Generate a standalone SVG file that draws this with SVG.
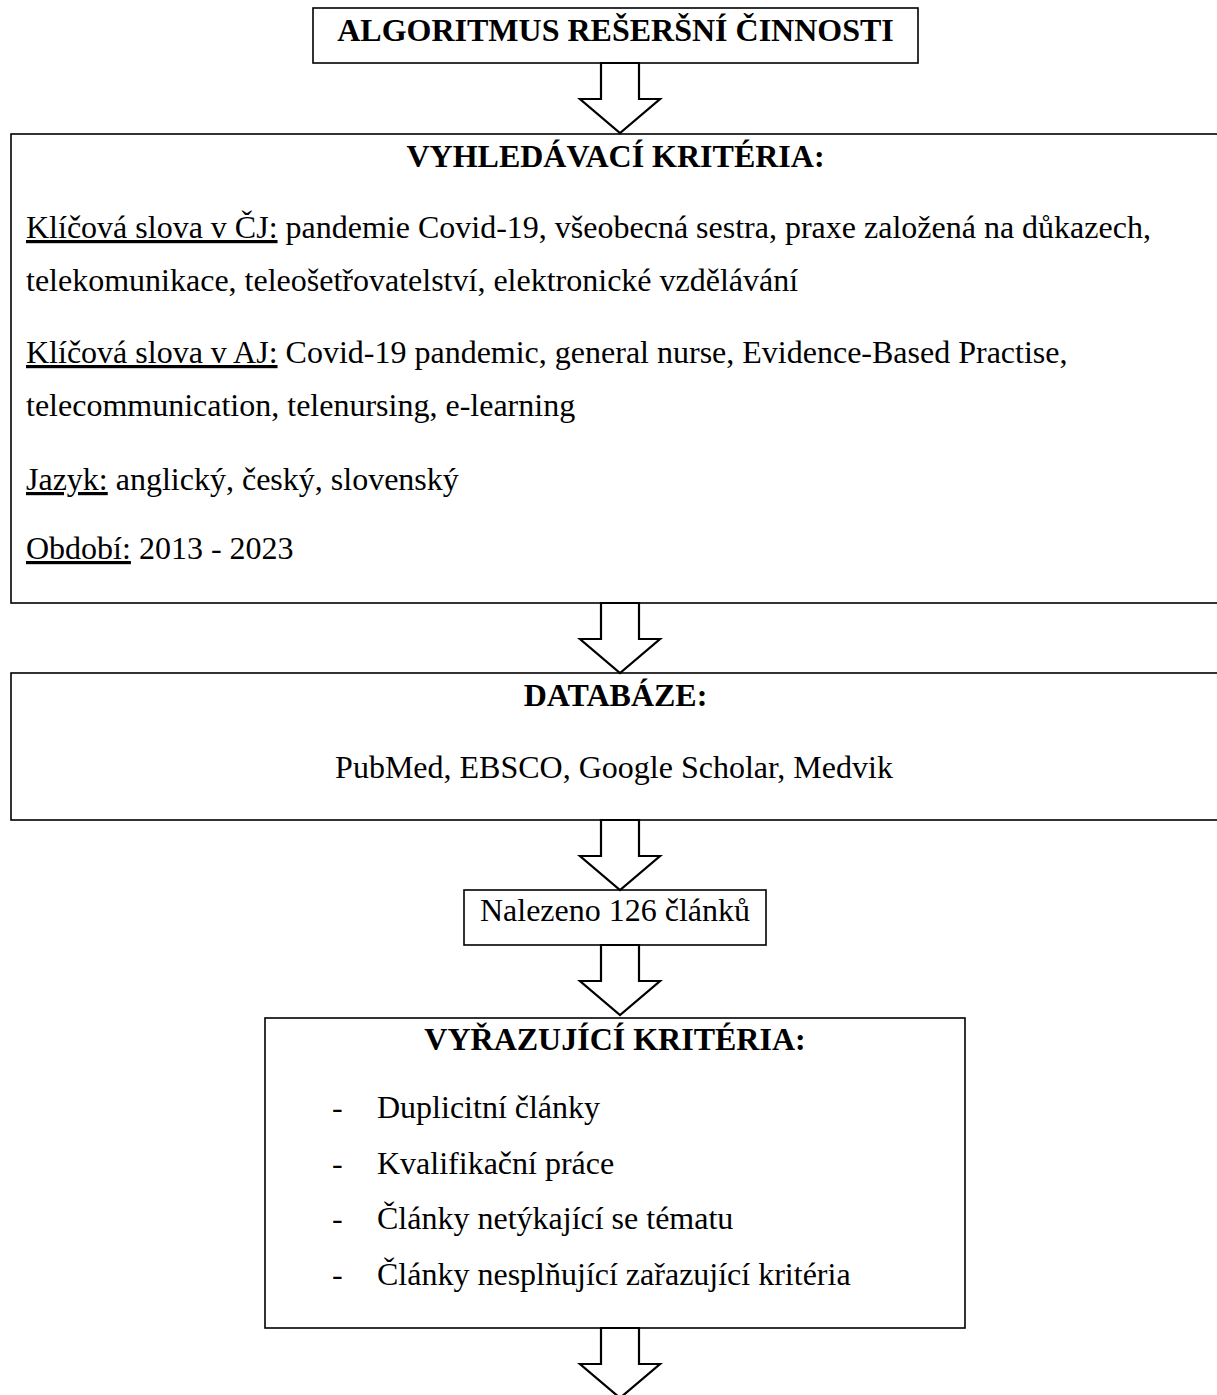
<svg xmlns="http://www.w3.org/2000/svg" width="1217" height="1395" viewBox="0 0 1217 1395">
<defs>
<style>
.box{fill:#fff;stroke:#000;stroke-width:1.6}
.arr{fill:#fff;stroke:#000;stroke-width:2.2;stroke-linejoin:miter}
.t{font-family:"Liberation Serif","Times New Roman",serif;font-size:32px;fill:#000}
.b{font-weight:bold}
.c{text-anchor:middle}
.u{text-decoration:underline}
</style>
<path id="arrow" d="M -19 0 L 19 0 L 19 36 L 40 36 L 0 70 L -40 36 L -19 36 Z"/>
</defs>
<rect width="1217" height="1395" fill="#fff"/>

<g id="title">
<rect class="box" x="313" y="8" width="605" height="55"/>
<text class="t b c" x="615.5" y="41">ALGORITMUS REŠERŠNÍ ČINNOSTI</text>
</g>

<g id="search-criteria">
<rect class="box" x="11" y="134" width="1230" height="469"/>
<text class="t b c" x="615.5" y="167">VYHLEDÁVACÍ KRITÉRIA:</text>
<text class="t" x="26" y="238"><tspan class="u">Klíčová slova v ČJ:</tspan> pandemie Covid-19, všeobecná sestra, praxe založená na důkazech,</text>
<text class="t" x="26" y="291">telekomunikace, teleošetřovatelství, elektronické vzdělávání</text>
<text class="t" x="26" y="363"><tspan class="u">Klíčová slova v AJ:</tspan> Covid-19 pandemic, general nurse, Evidence-Based Practise,</text>
<text class="t" x="26" y="416">telecommunication, telenursing, e-learning</text>
<text class="t" x="26" y="490"><tspan class="u">Jazyk:</tspan> anglický, český, slovenský</text>
<text class="t" x="26" y="559"><tspan class="u">Období:</tspan> 2013 - 2023</text>
</g>

<g id="databases">
<rect class="box" x="11" y="673" width="1230" height="147"/>
<text class="t b c" x="615.5" y="706">DATABÁZE:</text>
<text class="t c" x="614" y="778">PubMed, EBSCO, Google Scholar, Medvik</text>
</g>

<g id="found">
<rect class="box" x="464" y="890" width="302" height="55"/>
<text class="t c" x="615" y="921">Nalezeno 126 článků</text>
</g>

<g id="exclusion-criteria">
<rect class="box" x="265" y="1018" width="700" height="310"/>
<text class="t b c" x="615" y="1050">VYŘAZUJÍCÍ KRITÉRIA:</text>
<text class="t" x="332" y="1118">-</text>
<text class="t" x="377" y="1118">Duplicitní články</text>
<text class="t" x="332" y="1174">-</text>
<text class="t" x="377" y="1174">Kvalifikační práce</text>
<text class="t" x="332" y="1229">-</text>
<text class="t" x="377" y="1229">Články netýkající se tématu</text>
<text class="t" x="332" y="1285">-</text>
<text class="t" x="377" y="1285">Články nesplňující zařazující kritéria</text>
</g>

<g id="connectors">
<use href="#arrow" class="arr" x="620" y="63"/>
<use href="#arrow" class="arr" x="620" y="603"/>
<use href="#arrow" class="arr" x="620" y="820"/>
<use href="#arrow" class="arr" x="620" y="945" transform="translate(0,0)"/>
<use href="#arrow" class="arr" x="620" y="1328"/>
</g>
</svg>
